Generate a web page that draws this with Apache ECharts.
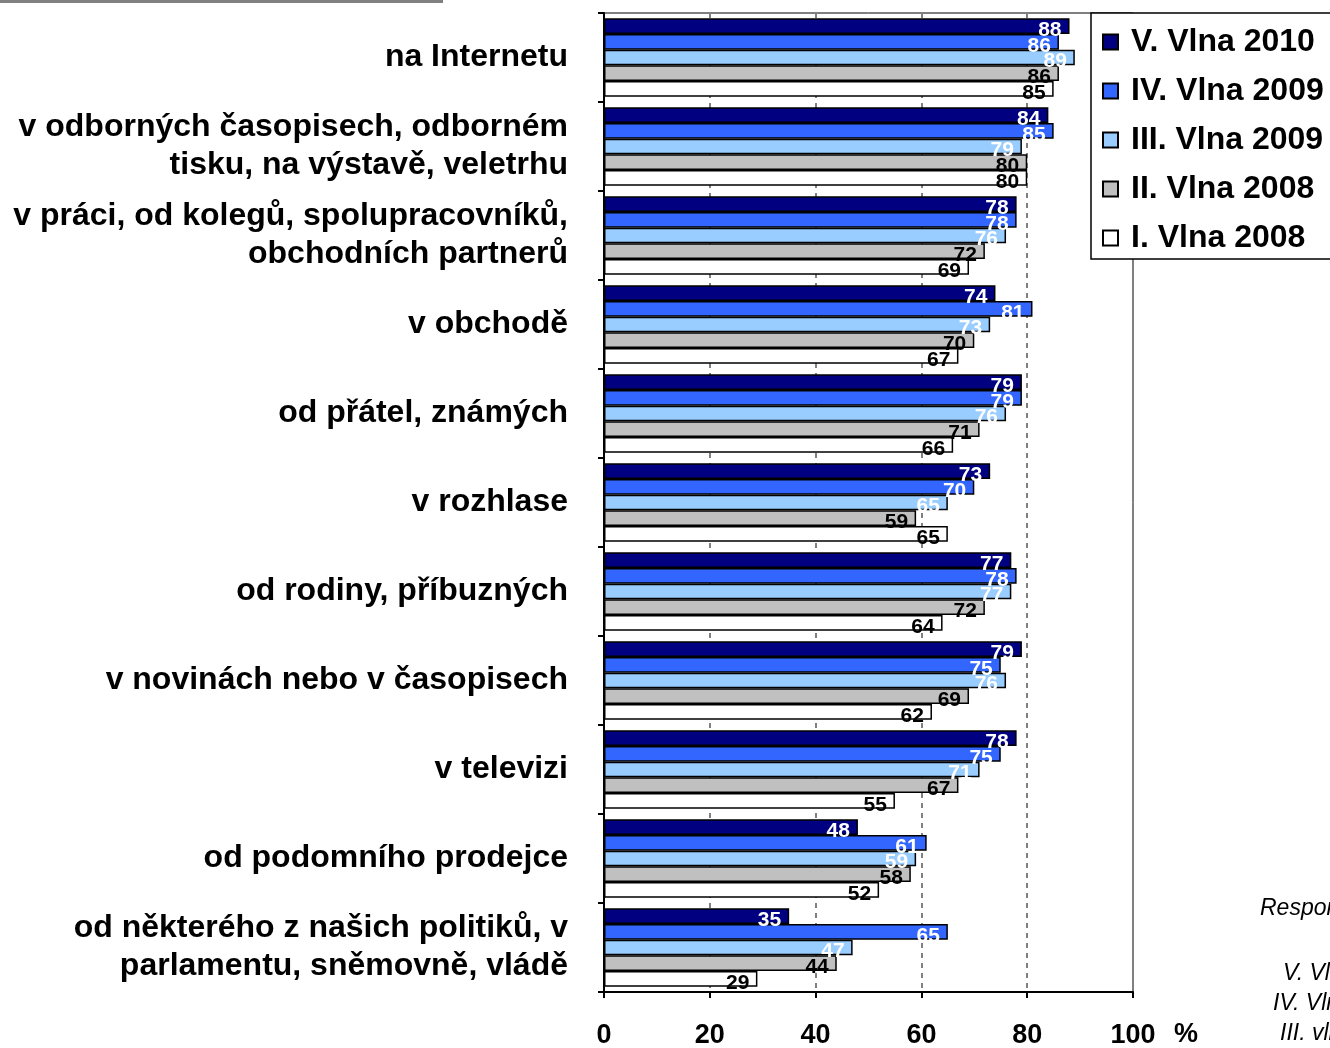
<!DOCTYPE html>
<html>
<head>
<meta charset="utf-8">
<script src="https://cdn.jsdelivr.net/npm/echarts@6/dist/echarts.min.js"></script>
<style>
html, body { margin: 0; padding: 0; background: #fff; }
#chart { width: 1330px; height: 1048px; }
</style>
</head>
<body>
<div id="chart"></div>
<script>
// kategorie (shora dolů)
var categories = [
    "na Internetu",
    "v odborných časopisech, odborném\ntisku, na výstavě, veletrhu",
    "v práci, od kolegů, spolupracovníků,\nobchodních partnerů",
    "v obchodě",
    "od přátel, známých",
    "v rozhlase",
    "od rodiny, příbuzných",
    "v novinách nebo v časopisech",
    "v televizi",
    "od podomního prodejce",
    "od některého z našich politiků, v\nparlamentu, sněmovně, vládě"
];
var seriesNames = ["V. Vlna 2010", "IV. Vlna 2009", "III. Vlna 2009", "II. Vlna 2008", "I. Vlna 2008"];
var vlna5 = [88, 84, 78, 74, 79, 73, 77, 79, 78, 48, 35];
var vlna4 = [86, 85, 78, 81, 79, 70, 78, 75, 75, 61, 65];
var vlna3 = [89, 79, 76, 73, 76, 65, 77, 76, 71, 59, 47];
var vlna2 = [86, 80, 72, 70, 71, 59, 72, 69, 67, 58, 44];
var vlna1 = [85, 80, 69, 67, 66, 65, 64, 62, 55, 52, 29];
var xTicks = [0, 20, 40, 60, 80, 100];

var colors = ["#000080", "#3366FF", "#99CCFF", "#C0C0C0", "#FFFFFF"];
var labelColors = ["#fff", "#fff", "#fff", "#000", "#000"];
var allData = [vlna5, vlna4, vlna3, vlna2, vlna1];
var font = "'Liberation Sans', Arial, sans-serif";

var myChart = echarts.init(document.getElementById("chart"));

var series = allData.map(function (d, i) {
    return {
        name: seriesNames[i],
        type: "bar",
        data: d,
        barGap: "0%",
        barCategoryGap: "12%",
        itemStyle: {
            color: colors[i],
            borderColor: "#000",
            borderWidth: 1.5
        },
        label: {
            show: true,
            position: "insideRight",
            distance: 8,
            offset: [0, 4],
            color: labelColors[i],
            fontFamily: font,
            fontWeight: "bold",
            fontSize: 21
        },
        silent: true
    };
});

var option = {
    animation: false,
    backgroundColor: "#fff",
    grid: {
        left: 604,
        right: 197,
        top: 13,
        bottom: 56,
        outerBoundsMode: "none",
        show: true,
        borderColor: "#000",
        borderWidth: 1
    },
    legend: {
        orient: "vertical",
        left: 1091,
        top: 13,
        data: seriesNames,
        backgroundColor: "#fff",
        borderColor: "#000",
        borderWidth: 1.5,
        borderRadius: 0,
        padding: [13, 40, 5, 11],
        itemGap: 17,
        itemWidth: 15,
        itemHeight: 15,
        icon: "rect",
        textStyle: {
            fontFamily: font,
            fontWeight: "bold",
            fontSize: 32,
            color: "#000",
            padding: [0, 0, 0, 8]
        }
    },
    xAxis: {
        type: "value",
        min: 0,
        max: 100,
        interval: 20,
        axisLine: { show: true, lineStyle: { color: "#000", width: 2 } },
        axisTick: { show: true, length: 6, lineStyle: { color: "#000", width: 2 } },
        axisLabel: {
            margin: 30,
            color: "#000",
            fontFamily: font,
            fontWeight: "bold",
            fontSize: 27,
            formatter: function (v) { return xTicks.indexOf(v) >= 0 ? String(v) : ""; }
        },
        splitLine: {
            show: true,
            lineStyle: { color: "#808080", width: 2, type: [5, 5] }
        }
    },
    yAxis: {
        type: "category",
        data: categories,
        inverse: true,
        axisLine: { show: true, lineStyle: { color: "#000", width: 2 } },
        axisTick: { show: true, length: 6, lineStyle: { color: "#000", width: 2 } },
        axisLabel: {
            margin: 36,
            color: "#000",
            fontFamily: font,
            fontWeight: "bold",
            fontSize: 32,
            lineHeight: 38,
            align: "right"
        }
    },
    graphic: [
        { type: "rect", left: 0, top: 0, shape: { width: 443, height: 3 }, style: { fill: "#808080" } },
        { type: "text", left: 1174, top: 1021, style: { text: "%", fill: "#000", font: "bold 27px " + font } },
        { type: "text", left: 1260, top: 897, style: { text: "Respondenti", fill: "#000", font: "italic 23px " + font } },
        { type: "text", left: 1283, top: 962, style: { text: "V. Vlna", fill: "#000", font: "italic 23px " + font } },
        { type: "text", left: 1273, top: 992, style: { text: "IV. Vlna", fill: "#000", font: "italic 23px " + font } },
        { type: "text", left: 1280, top: 1022, style: { text: "III. vlna", fill: "#000", font: "italic 23px " + font } }
    ],
    series: series
};

myChart.setOption(option);
</script>
</body>
</html>
